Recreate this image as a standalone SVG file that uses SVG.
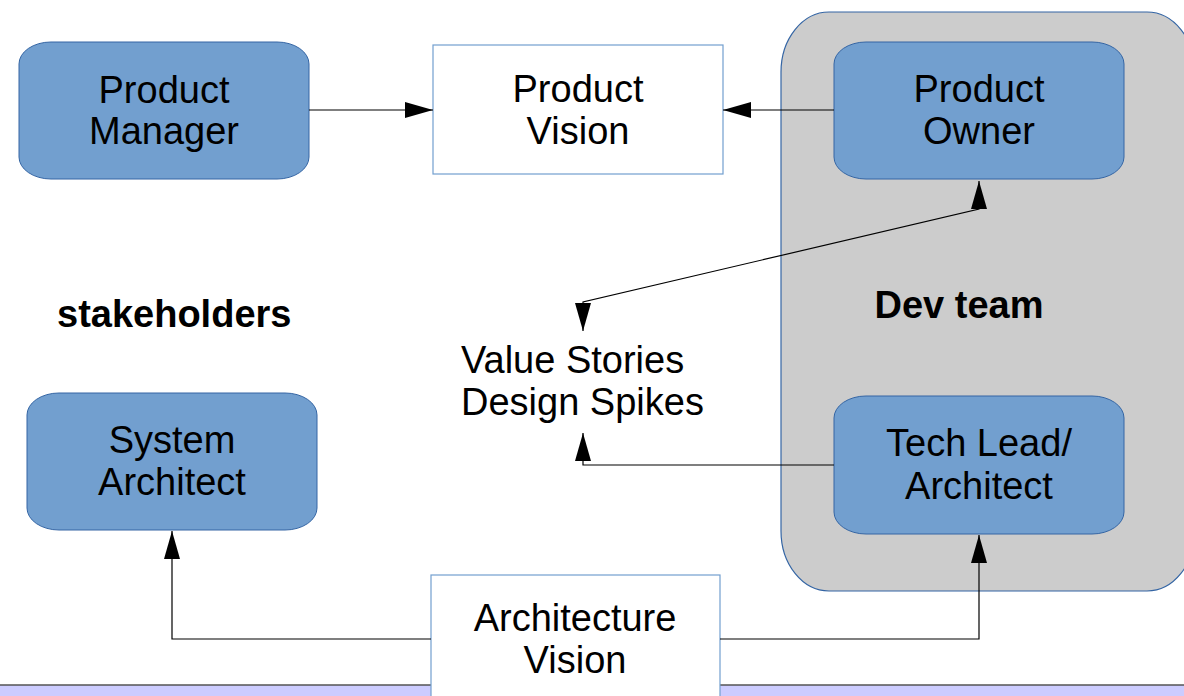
<svg xmlns="http://www.w3.org/2000/svg" width="1184" height="696" viewBox="0 0 1184 696">
  <defs>
    <marker id="arrow" viewBox="0 0 28 16" refX="28" refY="8" markerWidth="28" markerHeight="16" markerUnits="userSpaceOnUse" orient="auto-start-reverse">
      <path d="M0,0 L28,8 L0,16 Z" fill="#000"/>
    </marker>
  </defs>
  <style>
    .role { fill: #729fcf; stroke: #3465a4; stroke-width: 1; }
    .doc { fill: #ffffff; stroke: #729fcf; stroke-width: 1.2; }
    .team { fill: #cccccc; stroke: #3465a4; stroke-width: 1.2; }
    .lbl { font-family: "Liberation Sans", Arial, sans-serif; font-size: 38px; fill: #000; text-anchor: middle; }
    .free { font-family: "Liberation Sans", Arial, sans-serif; font-size: 38px; fill: #000; }
    .head { font-family: "Liberation Sans", Arial, sans-serif; font-size: 38px; font-weight: bold; fill: #000; }
    .wire { fill: none; stroke: #000; stroke-width: 1.2; }
  </style>

  <rect x="0" y="0" width="1184" height="696" fill="#ffffff"/>

  <!-- bottom band -->
  <g id="band">
    <rect x="0" y="685" width="1184" height="12" fill="#ccccff"/>
    <line x1="0" y1="685" x2="1184" y2="685" stroke="#555555" stroke-width="1.5"/>
  </g>

  <!-- development team container -->
  <g id="dev-team">
    <rect class="team" x="781" y="12" width="414" height="579" rx="48" ry="60"/>
    <text class="head" x="959" y="318" text-anchor="middle">Dev team</text>
  </g>

  <g id="stakeholders">
    <text class="head" x="57" y="327">stakeholders</text>
  </g>

  <g id="product-manager">
    <rect class="role" x="19" y="42" width="290" height="137" rx="32" ry="22"/>
    <text class="lbl" x="164" y="103">Product</text>
    <text class="lbl" x="164" y="144">Manager</text>
  </g>

  <g id="product-vision">
    <rect class="doc" x="433" y="45" width="290" height="129"/>
    <text class="lbl" x="578" y="102">Product</text>
    <text class="lbl" x="578" y="144">Vision</text>
  </g>

  <g id="product-owner">
    <rect class="role" x="834" y="42" width="290" height="137" rx="32" ry="22"/>
    <text class="lbl" x="979" y="102">Product</text>
    <text class="lbl" x="979" y="144">Owner</text>
  </g>

  <g id="value-stories">
    <text class="free" x="461" y="373">Value Stories</text>
    <text class="free" x="461" y="415">Design Spikes</text>
  </g>

  <g id="system-architect">
    <rect class="role" x="27" y="393" width="290" height="137" rx="32" ry="22"/>
    <text class="lbl" x="172" y="453">System</text>
    <text class="lbl" x="172" y="495">Architect</text>
  </g>

  <g id="tech-lead">
    <rect class="role" x="834" y="396" width="290" height="138" rx="32" ry="22"/>
    <text class="lbl" x="979" y="456">Tech Lead/</text>
    <text class="lbl" x="979" y="499">Architect</text>
  </g>

  <g id="architecture-vision">
    <rect class="doc" x="431" y="575" width="289" height="130"/>
    <text class="lbl" x="575" y="631">Architecture</text>
    <text class="lbl" x="575" y="673">Vision</text>
  </g>

  <g id="connectors">
    <path class="wire" d="M309,110 L433,110" marker-end="url(#arrow)"/>
    <path class="wire" d="M834,110 L723,110" marker-end="url(#arrow)"/>
    <path class="wire" d="M979,181 L979,209 L583,302 L583,331" marker-start="url(#arrow)" marker-end="url(#arrow)"/>
    <path class="wire" d="M834,465 L583,465 L583,433" marker-end="url(#arrow)"/>
    <path class="wire" d="M431,639 L172,639 L172,531" marker-end="url(#arrow)"/>
    <path class="wire" d="M720,639 L979,639 L979,535" marker-end="url(#arrow)"/>
  </g>
</svg>
